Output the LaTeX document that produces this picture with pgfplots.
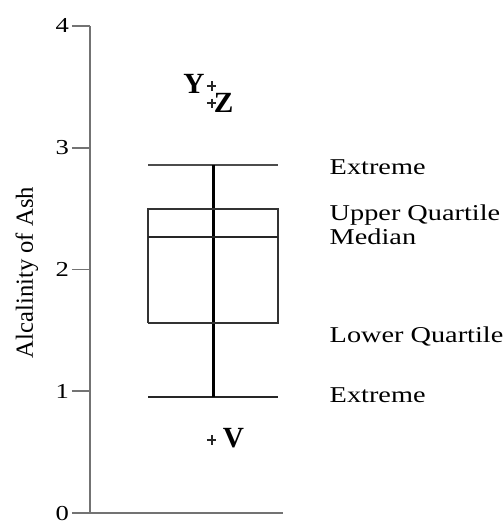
\documentclass[border=0pt]{standalone}
\usepackage{fontspec}
\setmainfont[FakeStretch=1.25]{Liberation Serif}
\newfontfamily\plainserif{Liberation Serif}
\usepackage{pgfplots}
\pgfplotsset{compat=1.18}
\begin{document}
\begin{tikzpicture}
\begin{axis}[
  scale only axis,
  width=144.75pt, height=366pt,
  xmin=0, xmax=193, ymin=0, ymax=4,
  axis x line=bottom, axis y line=left,
  axis line style={-, black!55, line width=1.6pt},
  xtick=\empty,
  ytick={0,1,2,3,4},
  tick align=outside,
  major tick length=13.5pt,
  tick style={black!55, line width=1.3pt},
  /pgf/number format/assume math mode=true,
  yticklabel style={font=\fontsize{16}{18}\selectfont, text=black, inner sep=2pt},
  clip=false,
]
% whiskers and box
\addplot[black!70, line width=1.6pt] coordinates {(58.5,2.855) (188,2.855)};
\addplot[black!85, line width=1.5pt] coordinates {(58.5,0.953) (188,0.953)};
\addplot[black, line width=2.5pt] coordinates {(124,0.953) (124,2.855)};
\addplot[black!80, line width=1.5pt] coordinates {(58.5,1.563) (188,1.563) (188,2.498) (58.5,2.498) (58.5,1.563)};
\addplot[black!85, line width=1.3pt] coordinates {(58.5,2.268) (188,2.268)};
% outliers
\addplot[only marks, mark=+, mark size=3.5pt, black!85, mark options={line width=1.4pt}] coordinates {(122,3.508) (122,3.366) (122,0.601)};
% outlier letters
\node[anchor=base east, inner sep=0, font=\plainserif\fontsize{22}{24}\selectfont\bfseries] at (axis cs:115,3.443) {Y};
\node[anchor=base west, inner sep=0, font=\plainserif\fontsize{22}{24}\selectfont\bfseries] at (axis cs:124,3.287) {Z};
\node[anchor=base west, inner sep=0, font=\plainserif\fontsize{22}{24}\selectfont\bfseries] at (axis cs:133,0.541) {V};
% annotations
\begin{scope}[every node/.style={anchor=base west, inner sep=0, font=\fontsize{17}{19}\selectfont}]
\node at (axis cs:240,2.779) {Extreme};
\node at (axis cs:240,2.401) {Upper Quartile};
\node at (axis cs:240,2.205) {Median};
\node at (axis cs:240,1.402) {Lower Quartile};
\node at (axis cs:240,0.910) {Extreme};
\end{scope}
% y label
\node[rotate=90, anchor=base, inner sep=0, font=\plainserif\fontsize{18.5}{20}\selectfont] at (axis cs:-57,1.975) {Alcalinity of Ash};
% bounding box
\path (axis cs:-90,-0.0738) rectangle (axis cs:414,4.213);
\end{axis}
\end{tikzpicture}
\end{document}
